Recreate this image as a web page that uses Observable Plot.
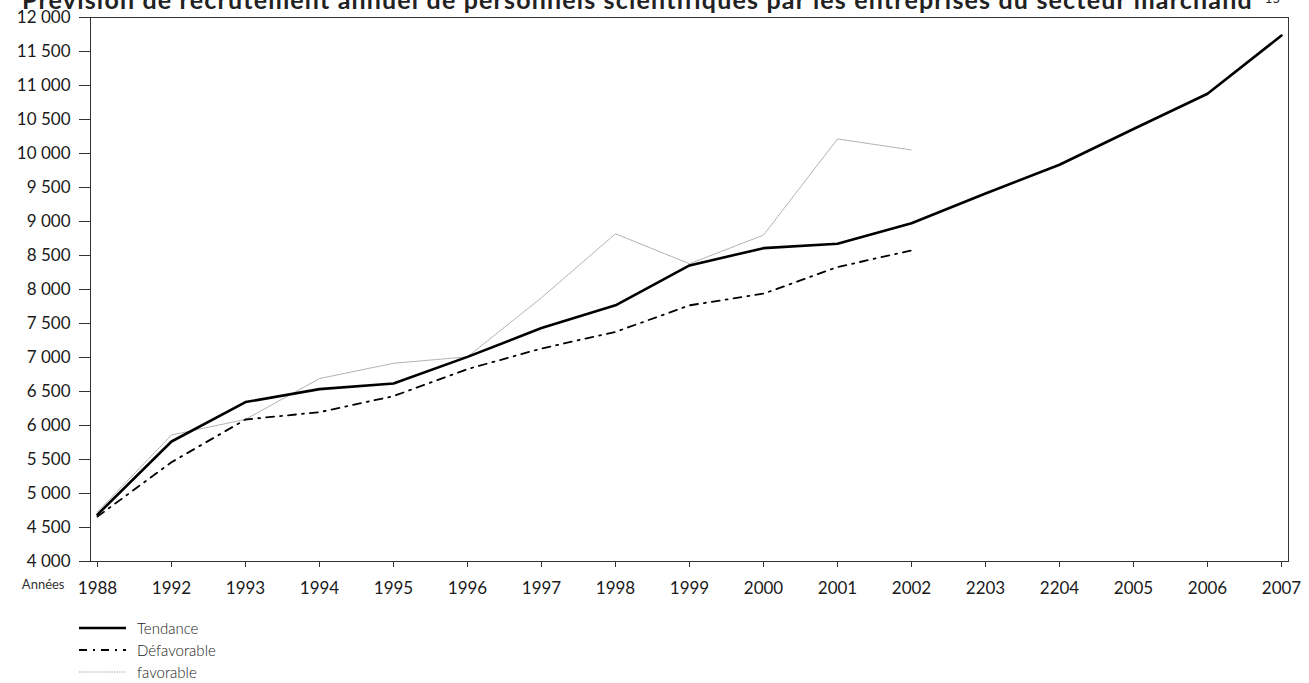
<!DOCTYPE html>
<html><head><meta charset="utf-8">
<script src="https://cdn.jsdelivr.net/npm/d3@7"></script>
<script src="https://cdn.jsdelivr.net/npm/@observablehq/plot@0.6"></script>
<style>
body{margin:0;background:#fff;font-family:Lato,"DejaVu Sans",sans-serif;color:#1a1a1a;}
#wrap{position:relative;width:1309px;height:683px;overflow:hidden;}
#title{position:absolute;left:22px;top:-13.5px;font-size:25px;line-height:25px;font-weight:700;white-space:nowrap;color:#222;}
#title .sup{position:relative;top:-6px;font-size:13px;font-weight:400;margin-left:12px;letter-spacing:0;}
#chart{position:absolute;left:0;top:0;}
#legend{position:absolute;left:79px;top:617px;font-size:15px;font-weight:300;color:#222;}
.row{display:flex;align-items:center;height:22px;}
.row svg{margin-right:11px;}
</style></head>
<body>
<div id="wrap">
  <div id="title"><span id="tmain">Prévision de recrutement annuel de personnels scientifiques par les entreprises du secteur marchand</span><span class="sup">15</span></div>
  <div id="chart"></div>
  <div id="legend"></div>
</div>
<script>
const years = ["1988","1992","1993","1994","1995","1996","1997","1998","1999","2000","2001","2002","2203","2204","2005","2006","2007"];
const tendance    = [4690, 5765, 6345, 6535, 6618, 7009, 7434, 7767, 8354, 8608, 8673, 8975, 9412, 9834, 10360, 10878, 11735];
const defavorable = [4660, 5460, 6088, 6196, 6432, 6830, 7132, 7376, 7767, 7939, 8330, 8575, null, null, null, null, null];
const favorable   = [4730, 5860, 6090, 6690, 6915, 7010, 7880, 8819, 8379, 8800, 10214, 10052, null, null, null, null, null];
const yTicks = d3.range(4000, 12001, 500);
const seriesNames = ["Tendance", "Défavorable", "favorable"];

const fmt = d => d3.format(",")(d).replace(/,/g, " ");
const toRows = vals => years.map((x, i) => ({x, y: vals[i]})).filter(d => d.y != null);

const styles = {
  "Tendance":    {stroke: "#000", strokeWidth: 2.6, dash: null},
  "Défavorable": {stroke: "#000", strokeWidth: 1.8, dash: "8,6,2,6"},
  "favorable":   {stroke: "#aaa", strokeWidth: 1, dash: "1.5,1"}
};
const seriesVals = {"Tendance": tendance, "Défavorable": defavorable, "favorable": favorable};

const chart = Plot.plot({
  width: 1309, height: 600,
  marginLeft: 90, marginRight: 21, marginTop: 17, marginBottom: 39,
  style: {fontFamily: "Lato, sans-serif", fontSize: "17px", color: "#1a1a1a", background: "transparent"},
  x: {type: "point", domain: years, padding: 0, label: null},
  y: {domain: [4000, 12000], label: null},
  marks: [
    Plot.axisY({ticks: yTicks, tickFormat: fmt, tickSize: 11, tickPadding: 9, label: null, stroke: "#333"}),
    Plot.axisX({tickSize: 6, tickPadding: 14, label: null, stroke: "#333"}),
    Plot.text(["Années"], {frameAnchor: "bottom-left", dx: -26, dy: 27, textAnchor: "end", fontSize: 13, fill: "#333"}),
    ...["favorable", "Défavorable", "Tendance"].map(name =>
      Plot.line(toRows(seriesVals[name]), {x: "x", y: "y", stroke: styles[name].stroke, strokeWidth: styles[name].strokeWidth, strokeDasharray: styles[name].dash, strokeLinejoin: "round"})
    ),
    Plot.frame({stroke: "#333", strokeWidth: 1})
  ]
});
document.getElementById("chart").appendChild(chart);

const legend = document.getElementById("legend");
seriesNames.forEach(name => {
  const s = styles[name];
  const row = document.createElement("div");
  row.className = "row";
  row.innerHTML = `<svg width="47" height="10"><line x1="0" y1="5" x2="47" y2="5" stroke="${s.stroke}" stroke-width="${s.strokeWidth}" ${s.dash ? `stroke-dasharray="${s.dash}"` : ""}/></svg><span>${name}</span>`;
  legend.appendChild(row);
});

// fit title width to reference span (x 22 → 1253)
const tmain = document.getElementById("tmain");
const w = tmain.getBoundingClientRect().width;
const n = tmain.textContent.length;
tmain.style.letterSpacing = ((1231 - w) / n) + "px";
</script>
</body></html>
